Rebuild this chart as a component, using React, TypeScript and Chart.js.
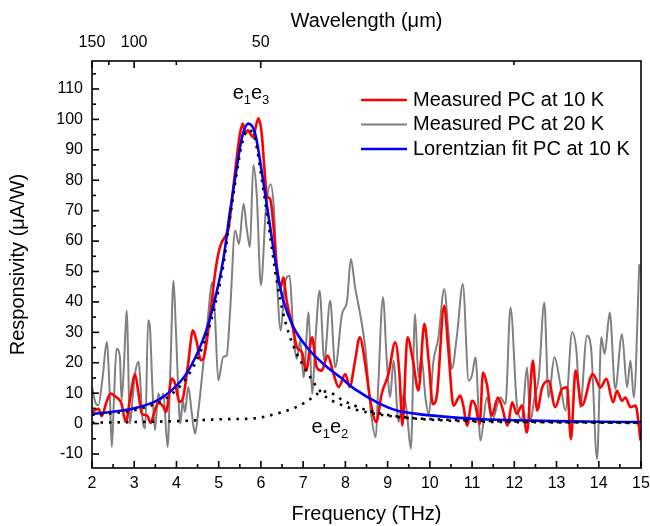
import React, { useEffect, useRef } from "react";
import { Chart, registerables } from "chart.js";

Chart.register(...registerables);

const FONT = "'Liberation Sans', Arial, Helvetica, sans-serif";
const C_UM_THZ = 299.792458; // wavelength (μm) = C / frequency (THz)

// ---- axes ----
const freqTicks = [2, 3, 4, 5, 6, 7, 8, 9, 10, 11, 12, 13, 14, 15];
const respTicks = [-10, 0, 10, 20, 30, 40, 50, 60, 70, 80, 90, 100, 110];
const wavelengthMajor = [150, 100, 50];
const wavelengthMinor = [125, 75, 25];
const Y_MIN = -14.6;
const Y_MAX = 119.2;

// ---- Measured PC at 10 K (red) ----
const redFreq = [
  2.0, 2.08, 2.15, 2.23, 2.33, 2.44, 2.55, 2.62, 2.7, 2.8, 2.9, 3.02, 3.1, 3.18, 3.3, 3.39, 3.48, 3.57, 3.69, 3.75,
  3.89, 3.97, 4.07, 4.15, 4.28, 4.39, 4.47, 4.58, 4.64, 4.8, 4.92, 5.03, 5.19, 5.23, 5.39, 5.5, 5.57, 5.63, 5.69, 5.81,
  5.94, 6.02, 6.08, 6.14, 6.22, 6.3, 6.38, 6.47, 6.53, 6.61, 6.77, 6.85, 6.97, 7.07, 7.21, 7.32, 7.44, 7.58, 7.72, 7.84,
  8.0, 8.1, 8.23, 8.34, 8.47, 8.59, 8.73, 8.86, 9.02, 9.18, 9.28, 9.35, 9.47, 9.6, 9.73, 9.87, 9.97, 10.07, 10.17, 10.34,
  10.44, 10.56, 10.72, 10.8, 10.88, 11.0, 11.08, 11.18, 11.26, 11.35, 11.47, 11.61, 11.71, 11.84, 11.95, 12.06, 12.18, 12.3, 12.44, 12.54,
  12.66, 12.81, 12.97, 13.13, 13.25, 13.34, 13.45, 13.6, 13.86, 14.04, 14.18, 14.34, 14.43, 14.55, 14.63, 14.75, 14.87, 14.99,
];
const redResp = [
  3.8, 4.5, 4.9, 2.4, 6.5, 9.9, 9.0, 8.2, 6.5, 0.5, 8.0, 16.2, 10.0, 3.3, 2.7, 0.2, 4.0, 6.8, 5.5, 3.8,
  14.8, 13.0, 7.1, 8.2, 20.0, 30.7, 27.4, 20.8, 21.4, 36.0, 50.0, 58.0, 62.4, 64.0, 83.0, 95.0, 98.6, 95.3, 96.4, 94.2,
  100.4, 95.2, 84.2, 74.9, 73.8, 64.5, 51.4, 45.0, 48.0, 40.4, 30.6, 25.1, 23.5, 17.4, 28.4, 18.5, 17.4, 22.4, 16.3, 12.0,
  16.3, 12.0, 20.7, 28.4, 19.6, 7.6, 0.5, 9.8, 16.3, 26.7, 16.3, -0.6, 28.4, 20.7, 10.9, 32.8, 21.0, 6.4, 9.7, 38.7,
  24.0, 5.9, 9.2, 5.4, -0.7, 7.5, 5.9, -0.1, 16.8, 13.0, 2.6, 8.6, 5.4, -0.7, 7.0, 3.2, 5.9, -2.9, 20.7, 4.3,
  11.9, 14.1, 5.4, 11.4, 11.9, -5.1, 17.4, 5.9, 16.3, 11.9, 14.7, 7.0, 10.8, 7.5, 8.6, 5.4, 5.9, -5.6,
];

// ---- Measured PC at 20 K (gray) ----
const grayFreq = [
  2.0, 2.08, 2.15, 2.25, 2.35, 2.42, 2.47, 2.52, 2.58, 2.66, 2.7, 2.76, 2.82, 2.9, 2.96, 3.02, 3.1, 3.2, 3.26, 3.33,
  3.37, 3.43, 3.49, 3.57, 3.63, 3.69, 3.79, 3.86, 3.93, 3.99, 4.09, 4.15, 4.2, 4.28, 4.36, 4.44, 4.52, 4.62, 4.76, 4.84,
  4.91, 4.99, 5.11, 5.19, 5.27, 5.39, 5.48, 5.59, 5.66, 5.74, 5.82, 5.9, 6.0, 6.12, 6.23, 6.31, 6.38, 6.47, 6.57, 6.68,
  6.76, 6.85, 6.93, 7.01, 7.13, 7.21, 7.3, 7.39, 7.5, 7.64, 7.76, 7.92, 8.04, 8.13, 8.23, 8.35, 8.47, 8.6, 8.72, 8.78,
  8.89, 8.98, 9.06, 9.14, 9.26, 9.38, 9.46, 9.55, 9.65, 9.73, 9.8, 9.9, 9.98, 10.08, 10.2, 10.34, 10.44, 10.52, 10.65, 10.78,
  10.92, 11.0, 11.08, 11.2, 11.35, 11.47, 11.67, 11.79, 11.91, 12.06, 12.18, 12.3, 12.38, 12.48, 12.58, 12.71, 12.81, 12.95, 13.09, 13.21,
  13.37, 13.47, 13.56, 13.72, 13.82, 13.96, 14.06, 14.14, 14.26, 14.39, 14.55, 14.67, 14.75, 14.83, 14.96,
];
const grayResp = [
  12.0, 7.0, 6.0, 15.0, 26.8, 10.0, -7.7, 8.0, 24.6, 22.0, 7.7, 20.0, 37.2, 0.0, 8.0, 16.4, 20.3, 1.0, -1.6, 34.0,
  32.0, 12.0, -2.2, 9.9, 7.7, 9.9, -7.7, 20.0, 47.0, 29.6, 0.0, 7.7, 3.8, 12.0, 3.8, -3.3, 4.4, 17.5, 37.0, 46.5,
  36.0, 14.2, 22.0, 22.4, 37.0, 63.5, 59.0, 72.3, 64.6, 58.0, 85.0, 75.5, 45.5, 71.0, 78.7, 70.0, 47.0, 30.6, 46.4, 48.6,
  31.7, 21.3, 27.3, 15.2, 36.6, 9.8, 29.5, 43.7, 20.7, 40.4, 18.5, 36.0, 40.4, 54.1, 44.8, 36.0, 25.1, 4.3, -4.5, 13.1,
  41.5, 20.7, 8.7, 20.7, 0.5, 9.8, 3.2, -8.3, 36.0, 15.2, 22.0, 8.0, 3.0, 20.0, 28.0, 44.2, 30.0, 18.0, 30.0, 45.9,
  14.1, 16.0, 21.8, -5.6, 8.6, 1.0, 8.6, 6.4, 38.2, 6.4, 1.5, 18.5, 1.0, 8.6, 15.2, 39.8, 8.6, 21.8, 13.0, 4.3,
  30.0, 24.0, 5.4, 28.9, 24.5, -11.6, 28.4, 22.9, 36.5, 11.4, 29.4, 11.9, 20.7, 8.6, 52.4,
];

// ---- Lorentzian fit PC at 10 K (blue) ----
const fitFreq = [
  2.0, 2.5, 3.0, 3.5, 3.85, 4.24, 4.64, 4.87, 5.11, 5.27, 5.43, 5.55, 5.7, 5.86, 6.04, 6.22, 6.38, 6.53, 6.77, 7.09,
  7.48, 7.88, 8.27, 8.75, 9.22, 9.69, 10.0, 10.5, 11.0, 12.0, 13.0, 14.0, 15.0,
];
const fitResp = [
  3.2, 3.9, 5.0, 7.3, 10.5, 16.5, 28.0, 38.5, 54.0, 70.0, 84.3, 94.0, 98.6, 95.5, 81.0, 64.5, 50.3, 40.4, 31.7, 25.1,
  19.6, 15.2, 10.9, 7.0, 4.3, 3.2, 2.7, 2.1, 1.6, 1.1, 0.8, 0.6, 0.5,
];

// ---- Lorentzian components (black dotted) ----
const e13Freq = [
  2.0, 2.5, 3.0, 3.5, 3.85, 4.24, 4.64, 4.87, 5.11, 5.27, 5.43, 5.55, 5.7, 5.86, 6.04, 6.22, 6.38, 6.53, 6.77, 7.09,
  7.48, 7.88, 8.27, 8.75, 9.22, 9.69, 10.0, 11.0, 12.0, 13.0, 15.0,
];
const e13Resp = [
  2.9, 3.4, 4.4, 6.5, 9.3, 15.0, 26.0, 36.5, 52.0, 68.0, 82.5, 92.0, 96.5, 93.5, 78.5, 61.5, 46.5, 36.0, 25.5, 17.0,
  9.5, 6.3, 4.5, 3.1, 2.2, 1.6, 1.3, 0.7, 0.5, 0.4, 0.2,
];
const e12Freq = [
  2.0, 3.0, 4.0, 5.0, 5.9, 6.25, 6.5, 6.8, 7.05, 7.25, 7.45, 7.7, 7.92, 8.2, 8.47, 8.8, 9.06, 9.4, 9.69, 10.0,
  11.0, 12.0, 13.0, 14.0, 15.0,
];
const e12Resp = [
  0.3, 0.5, 0.8, 1.4, 1.8, 2.8, 3.8, 5.2, 7.0, 8.8, 10.6, 9.8, 7.8, 6.0, 4.6, 3.4, 2.7, 2.1, 1.7, 1.5,
  1.0, 0.7, 0.5, 0.4, 0.3,
];

// ---- legend & labels ----
const legendLabels = ["Measured PC at 10 K", "Measured PC at 20 K", "Lorentzian fit PC at 10 K"];
const legendColors = ["#ff0000", "#808080", "#0000ff"];
const legendWidths = [2.6, 2, 2.6];
const peakLabels = [
  { freq: 5.33, resp: 106.8, main: ["e", "e"], subs: ["1", "3"] },
  { freq: 7.2, resp: -3.0, main: ["e", "e"], subs: ["1", "2"] },
];

function toPoints(xs: number[], ys: number[]) {
  return xs.map((x, i) => ({ x, y: ys[i] }));
}

const overlayPlugin = {
  id: "overlay",
  afterDraw(chart: any) {
    const { ctx, chartArea } = chart;
    const { left, right, top, bottom } = chartArea;
    const xs = chart.scales.x;
    const ys = chart.scales.y;
    ctx.save();
    ctx.strokeStyle = "#000";
    ctx.lineWidth = 1.6;
    ctx.lineCap = "butt";
    ctx.strokeRect(left, top, right - left, bottom - top);
    const seg = (x1: number, y1: number, x2: number, y2: number) => {
      ctx.beginPath();
      ctx.moveTo(x1, y1);
      ctx.lineTo(x2, y2);
      ctx.stroke();
    };
    // bottom ticks (inward)
    freqTicks.forEach((v, i) => {
      const p = xs.getPixelForValue(v);
      seg(p, bottom, p, bottom - 7);
      if (i < freqTicks.length - 1) {
        const pm = xs.getPixelForValue((v + freqTicks[i + 1]) / 2);
        seg(pm, bottom, pm, bottom - 4);
      }
    });
    // top ticks (wavelength)
    wavelengthMajor.forEach((w) => {
      const p = xs.getPixelForValue(C_UM_THZ / w);
      seg(p, top, p, top + 7);
    });
    wavelengthMinor.forEach((w) => {
      const p = xs.getPixelForValue(C_UM_THZ / w);
      seg(p, top, p, top + 4);
    });
    // left ticks
    respTicks.forEach((v) => {
      const p = ys.getPixelForValue(v);
      seg(left, p, left + 7, p);
    });
    respTicks.forEach((v, i) => {
      const mids = [v - 5, v + 5];
      mids.forEach((m) => {
        if (m >= Y_MIN && m <= Y_MAX && (i === 0 || m > v)) {
          const p = ys.getPixelForValue(m);
          seg(left, p, left + 4, p);
        }
      });
    });

    // legend
    ctx.font = `20px ${FONT}`;
    ctx.textBaseline = "middle";
    ctx.textAlign = "left";
    legendLabels.forEach((label, i) => {
      const y = top + 39 + i * 24.5;
      ctx.strokeStyle = legendColors[i];
      ctx.lineWidth = legendWidths[i];
      seg(right - 280, y, right - 234, y);
      ctx.fillStyle = "#000";
      ctx.fillText(label, right - 228, y);
    });

    // peak labels
    ctx.fillStyle = "#000";
    ctx.textBaseline = "alphabetic";
    peakLabels.forEach((lab) => {
      let x = xs.getPixelForValue(lab.freq);
      const y = ys.getPixelForValue(lab.resp);
      for (let k = 0; k < lab.main.length; k++) {
        ctx.font = `20px ${FONT}`;
        ctx.fillText(lab.main[k], x, y);
        x += ctx.measureText(lab.main[k]).width;
        ctx.font = `13px ${FONT}`;
        ctx.fillText(lab.subs[k], x, y + 5);
        x += ctx.measureText(lab.subs[k]).width;
      }
    });
    ctx.restore();
  },
};

export default function App() {
  const canvasRef = useRef<HTMLCanvasElement | null>(null);

  useEffect(() => {
    if (!canvasRef.current) return;
    const tickFont = { family: FONT, size: 16 };
    const titleFont = { family: FONT, size: 20 };
    const chart = new Chart(canvasRef.current, {
      type: "line",
      data: {
        datasets: [
          {
            label: "e1e3 component",
            data: toPoints(e13Freq, e13Resp),
            borderColor: "#000",
            borderWidth: 2.6,
            borderDash: [2.5, 6],
            pointRadius: 0,
            cubicInterpolationMode: "monotone",
            fill: false,
          },
          {
            label: "e1e2 component",
            data: toPoints(e12Freq, e12Resp),
            borderColor: "#000",
            borderWidth: 2.6,
            borderDash: [2.5, 6],
            pointRadius: 0,
            cubicInterpolationMode: "monotone",
            fill: false,
          },
          {
            label: legendLabels[2],
            data: toPoints(fitFreq, fitResp),
            borderColor: legendColors[2],
            borderWidth: 2.6,
            pointRadius: 0,
            cubicInterpolationMode: "monotone",
            fill: false,
          },
          {
            label: legendLabels[0],
            data: toPoints(redFreq, redResp),
            borderColor: legendColors[0],
            borderWidth: 2.6,
            pointRadius: 0,
            cubicInterpolationMode: "monotone",
            fill: false,
          },
          {
            label: legendLabels[1],
            data: toPoints(grayFreq, grayResp),
            borderColor: legendColors[1],
            borderWidth: 2,
            pointRadius: 0,
            cubicInterpolationMode: "monotone",
            fill: false,
          },
        ],
      },
      options: {
        animation: false,
        responsive: false,
        devicePixelRatio: 1,
        parsing: false,
        layout: { padding: { left: 0, top: 0, bottom: 0, right: 9 } },
        plugins: { legend: { display: false }, tooltip: { enabled: false } },
        scales: {
          x: {
            type: "linear",
            position: "bottom",
            min: 2,
            max: 15,
            afterBuildTicks: (s: any) => {
              s.ticks = freqTicks.map((v) => ({ value: v }));
            },
            afterFit: (s: any) => {
              s.height = 58;
              s.paddingLeft = 0;
              s.paddingRight = 0;
            },
            grid: { display: false, drawTicks: false },
            border: { display: false },
            ticks: { color: "#000", font: tickFont, padding: 6, maxRotation: 0, autoSkip: false },
            title: {
              display: true,
              text: "Frequency (THz)",
              color: "#000",
              font: titleFont,
              padding: { top: 0, bottom: 0 },
            },
          },
          xTop: {
            type: "linear",
            position: "top",
            min: 2,
            max: 15,
            afterBuildTicks: (s: any) => {
              s.ticks = wavelengthMajor.map((w) => ({ value: C_UM_THZ / w }));
            },
            afterFit: (s: any) => {
              s.height = 61;
              s.paddingLeft = 0;
              s.paddingRight = 0;
            },
            grid: { display: false, drawTicks: false },
            border: { display: false },
            ticks: {
              color: "#000",
              font: tickFont,
              padding: 9,
              maxRotation: 0,
              autoSkip: false,
              callback: (_v: any, i: number) => String(wavelengthMajor[i]),
            },
            title: {
              display: true,
              text: "Wavelength (μm)",
              color: "#000",
              font: titleFont,
              padding: { top: 9, bottom: 0 },
            },
          },
          y: {
            type: "linear",
            min: Y_MIN,
            max: Y_MAX,
            afterBuildTicks: (s: any) => {
              s.ticks = respTicks.map((v) => ({ value: v }));
            },
            afterFit: (s: any) => {
              s.width = 92;
              s.paddingTop = 0;
              s.paddingBottom = 0;
            },
            grid: { display: false, drawTicks: false },
            border: { display: false },
            ticks: { color: "#000", font: tickFont, padding: 9, autoSkip: false },
            title: {
              display: true,
              text: "Responsivity (μA/W)",
              color: "#000",
              font: titleFont,
              padding: { top: 6, bottom: 0 },
            },
          },
        },
      },
      plugins: [overlayPlugin],
    } as any);
    return () => chart.destroy();
  }, []);

  return (
    <div style={{ position: "fixed", left: 0, top: 0, width: 650, height: 526, background: "#fff" }}>
      <canvas ref={canvasRef} width={650} height={526} style={{ width: 650, height: 526, display: "block" }} />
    </div>
  );
}
